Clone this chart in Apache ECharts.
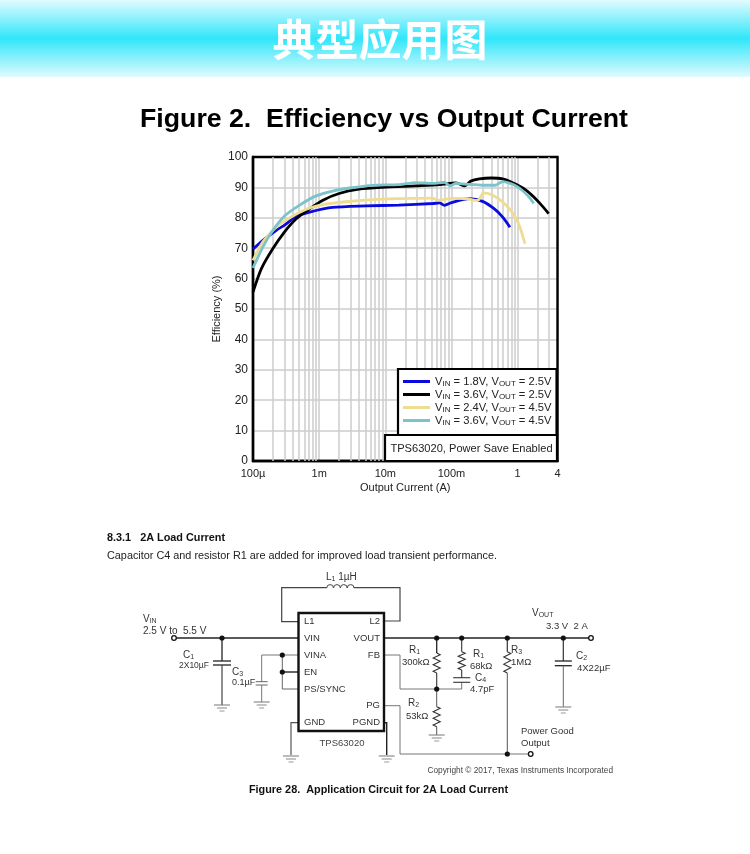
<!DOCTYPE html>
<html>
<head>
<meta charset="utf-8">
<style>html,body{margin:0;padding:0;background:#fff}#c{width:750px;height:854px}</style>
<script src="https://cdn.jsdelivr.net/npm/echarts@6/dist/echarts.min.js"></script>
</head>
<body>
<div id="c"></div>
<script>
// Chart data: output current (A) and efficiency (%)
var blueCurrent = [1e-4,1.4e-4,2.25e-4,3e-4,4.5e-4,7.2e-4,1.6e-3,5.1e-3,0.016,0.052,0.066,0.078,0.1,0.186,0.295,0.44,0.59,0.764];
var blueEff     = [69.7,72.5,75.9,77.6,80.5,81.9,83.4,83.9,84.2,84.7,84.9,84.1,85,86.3,85.4,83,80.3,76.9];
var blackCurrent = [1e-4,1.34e-4,2e-4,3e-4,4.5e-4,7.2e-4,1.14e-3,2e-3,4e-3,9e-3,0.029,0.066,0.117,0.158,0.197,0.263,0.398,0.59,0.944,1.41,2.12,2.94];
var blackEff     = [55.6,63.3,69.9,75.4,79.7,83,85.8,88,89.4,90,90.5,90.9,91.5,90.5,92.1,92.8,93.1,92.8,91,88.7,85,81.4];
var yellowCurrent = [1e-4,1.41e-4,2.25e-4,3.6e-4,6.4e-4,1.14e-3,2.3e-3,6.5e-3,0.016,0.052,0.0617,0.104,0.166,0.249,0.307,0.42,0.63,0.89,1.08,1.29];
var yellowEff     = [66,72.1,77,80,82.8,84.3,85.2,86,86.3,86.5,85.8,86.4,86.3,85.7,88.2,87.4,84.7,80.8,77,71.5];
var tealCurrent = [1e-4,1.41e-4,2e-4,3e-4,5e-4,9e-4,1.6e-3,2.9e-3,6.5e-3,0.016,0.029,0.052,0.078,0.094,0.117,0.16,0.295,0.46,0.59,0.944,1.41,1.75];
var tealEff     = [63.5,70.4,75.9,80.6,84.1,87.2,88.8,89.8,90.7,90.9,91.6,91.3,91.7,90.5,91.3,91.1,90.7,90.7,91.9,90.5,87.4,84.7];
var seriesNames = ['VIN = 1.8V, VOUT = 2.5V','VIN = 3.6V, VOUT = 2.5V','VIN = 2.4V, VOUT = 4.5V','VIN = 3.6V, VOUT = 4.5V'];
var seriesColors = ['#0a0ae0','#000000','#eedd90','#7cc4cc'];
var minorGridCurrents = [2e-4,3e-4,4e-4,5e-4,6e-4,7e-4,8e-4,9e-4,2e-3,3e-3,4e-3,5e-3,6e-3,7e-3,8e-3,9e-3,0.02,0.03,0.04,0.05,0.06,0.07,0.08,0.09,0.2,0.3,0.4,0.5,0.6,0.7,0.8,0.9,2,3];
var xTickLabels = {'0.0001':'100µ','0.001':'1m','0.01':'10m','0.1':'100m','1':'1','4':'4'};

function zip(a,b){return a.map(function(v,i){return [v,b[i]];});}

// --- static page furniture and circuit diagram ---
var SANS='"Liberation Sans",Arial,sans-serif';
var G=[];
var rich={n:{fontFamily:SANS,fontSize:10,fill:'#333',color:'#333'},s:{fontFamily:SANS,fontSize:7,color:'#333',verticalAlign:'bottom',padding:[5,0,0,0]}};
function txt(x,y,t,o){o=o||{};G.push({type:'text',z:50,x:x,y:y,style:{text:t,fontFamily:o.ff||SANS,fontSize:o.size||10,fontWeight:o.w||'normal',fill:o.c||'#333',align:o.a||'left',verticalAlign:'middle',rich:o.rich?rich:undefined}});}
function wire(p,c,w){G.push({type:'polyline',z:40,shape:{points:p},style:{stroke:c||'#555',lineWidth:w||1,fill:null}});}
function dot(x,y){G.push({type:'circle',z:42,shape:{cx:x,cy:y,r:2.6},style:{fill:'#111'}});}
function term(x,y){G.push({type:'circle',z:42,shape:{cx:x,cy:y,r:2.3},style:{fill:'#fff',stroke:'#111',lineWidth:1.3}});}
function gnd(x,y){wire([[x-8,y],[x+8,y]],'#777');wire([[x-5,y+3],[x+5,y+3]],'#888');wire([[x-2.5,y+6],[x+2.5,y+6]],'#999');}
function capH(x,y1,y2,hw,c,w){wire([[x-hw,y1],[x+hw,y1]],c,w);wire([[x-hw,y2],[x+hw,y2]],c,w);}
function res(x,y1,y2){var n=6,p=[[x,y1]],st=(y2-y1)/n;for(var i=0;i<n;i++){p.push([x+(i%2?-3.5:3.5),y1+st*(i+0.5)]);}p.push([x,y2]);wire(p,'#333',1.1);}

G.push({type:'rect',z:1,shape:{x:0,y:0,width:750,height:77},style:{fill:new echarts.graphic.LinearGradient(0,0,0,1,[{offset:0,color:'#e2fbfe'},{offset:0.5,color:'#30e6fa'},{offset:1,color:'#e0fafe'}])}});
txt(380,40,'典型应用图',{ff:'"Noto Sans CJK SC"',size:43,w:'bold',c:'#ffffff',a:'center'});
txt(384,120,'Figure 2.  Efficiency vs Output Current',{size:26.7,w:'bold',c:'#000',a:'center'});
txt(107,538,'8.3.1   2A Load Current',{size:10.85,w:'bold',c:'#111'});
txt(107,556,'Capacitor C4 and resistor R1 are added for improved load transient performance.',{size:10.85,c:'#222'});
txt(378.5,790,'Figure 28.  Application Circuit for 2A Load Current',{size:10.85,w:'bold',c:'#111',a:'center'});
txt(613,771,'Copyright © 2017, Texas Instruments Incorporated',{size:8.3,c:'#444',a:'right'});

// TPS box in the plot corner
G.push({type:'rect',z:60,shape:{x:385,y:435,width:172,height:26},style:{fill:'#fff',stroke:'#000',lineWidth:2.2}});
G.push({type:'text',z:61,x:471.5,y:449,style:{text:'TPS63020, Power Save Enabled',fontFamily:SANS,fontSize:11.1,fill:'#222',align:'center',verticalAlign:'middle'}});

// IC
G.push({type:'rect',z:41,shape:{x:298.5,y:613,width:85.5,height:118},style:{fill:'#fff',stroke:'#111',lineWidth:2.4}});
[['L1',621.7],['VIN',638],['VINA',655],['EN',672],['PS/SYNC',689],['GND',722]].forEach(function(a){txt(304,a[1],a[0],{size:9.5});});
[['L2',621.7],['VOUT',638],['FB',655],['PG',705.7],['PGND',722]].forEach(function(a){txt(380,a[1],a[0],{size:9.5,a:'right'});});
txt(342,743,'TPS63020',{size:9.5,a:'center',c:'#444'});
// inductor
wire([[298,621.7],[281.7,621.7],[281.7,587.7],[326.7,587.7]],'#444',1.2);
wire([[354,587.7],[400,587.7],[400,621],[384,621]],'#444',1.2);
[0,1,2,3].forEach(function(i){G.push({type:'arc',z:40,shape:{cx:330.1+i*6.85,cy:588,r:3.4,startAngle:Math.PI,endAngle:2*Math.PI},style:{stroke:'#444',lineWidth:1,fill:null}});});
txt(326,577,'{n|L}{s|1}{n| 1µH}',{rich:true});
// input
txt(143,619,'{n|V}{s|IN}',{rich:true});
txt(143,631,'2.5 V to  5.5 V',{size:10});
wire([[176,638],[298,638]],'#222',1.3);term(174,638);dot(222,638);
wire([[222,638],[222,661]],'#222',1.3);capH(222,661,665,9,'#222',1.3);wire([[222,665],[222,705]],'#444',1.2);gnd(222,705);
txt(183,655,'{n|C}{s|1}',{rich:true});txt(179,666,'2X10µF',{size:8.5});
txt(232,672,'{n|C}{s|3}',{rich:true});txt(232,683,'0.1µF',{size:9});
wire([[298,655],[261.7,655],[261.7,681.7]],'#777');capH(261.7,681.7,685,6,'#666',1);wire([[261.7,685],[261.7,702]],'#777');gnd(261.7,702);
wire([[282.3,655],[282.3,689],[298,689]],'#666');wire([[282.3,672],[298,672]],'#222',1.4);dot(282.3,655);dot(282.3,672);
wire([[298,722.7],[291,722.7],[291,755]],'#555',1.2);gnd(291,756);
wire([[384,722.7],[386.7,722.7],[386.7,755]],'#222',1.4);gnd(386.7,756);
// output
wire([[384,638],[589,638]],'#222',1.3);term(591,638);
[436.7,461.7,507.3,563.3].forEach(function(x){dot(x,638);});
wire([[436.7,638],[436.7,653]],'#222',1.3);res(436.7,653,673);wire([[436.7,673],[436.7,689]],'#333',1.1);dot(436.7,689);
wire([[384,655],[400,655],[400,689],[461.7,689],[461.7,682.3]],'#777');
wire([[461.7,638],[461.7,651.7]],'#333',1.1);res(461.7,651.7,670);wire([[461.7,670],[461.7,677.7]],'#333',1.1);capH(461.7,677.7,682.3,8.5,'#333',1.1);
wire([[436.7,689],[436.7,706.7]],'#555');res(436.7,706.7,726.7);wire([[436.7,726.7],[436.7,735]],'#555');gnd(436.7,735);
wire([[507.3,638],[507.3,651.7]],'#333',1.2);res(507.3,651.7,673);wire([[507.3,673],[507.3,754]],'#555');
wire([[384,705.7],[400,705.7],[400,754],[528,754]],'#777');dot(507.3,754);term(530.7,754);
wire([[563.3,638],[563.3,661]],'#333',1.2);capH(563.3,661,665.7,8.5,'#222',1.3);wire([[563.3,665.7],[563.3,706.7]],'#666');gnd(563.3,707);
txt(409,650,'{n|R}{s|1}',{rich:true});txt(402,662,'300kΩ',{size:9.5});
txt(473,654,'{n|R}{s|1}',{rich:true});txt(470,666,'68kΩ',{size:9.5});
txt(475,678,'{n|C}{s|4}',{rich:true});txt(470,689,'4.7pF',{size:9.5});
txt(511,650,'{n|R}{s|3}',{rich:true});txt(511,662,'1MΩ',{size:9.5});
txt(408,703,'{n|R}{s|2}',{rich:true});txt(406,716,'53kΩ',{size:9.5});
txt(532,613,'{n|V}{s|OUT}',{rich:true});txt(546,626,'3.3 V  2 A',{size:9.5});
txt(576,656,'{n|C}{s|2}',{rich:true});txt(577,668,'4X22µF',{size:9.5});
txt(521,731,'Power Good',{size:9.5});txt(521,743,'Output',{size:9.5});

var datasets=[zip(blueCurrent,blueEff),zip(blackCurrent,blackEff),zip(yellowCurrent,yellowEff),zip(tealCurrent,tealEff)];
var series=datasets.map(function(d,i){return {name:seriesNames[i],type:'line',data:d,showSymbol:false,symbol:'none',smooth:0.25,z:5,silent:true,lineStyle:{color:seriesColors[i],width:2.8},itemStyle:{color:seriesColors[i]}};});
series.push({name:'grid',type:'line',data:[],silent:true,z:1,markLine:{silent:true,symbol:'none',animation:false,precision:8,label:{show:false},lineStyle:{color:'#cccccc',width:1.5,type:'solid'},data:minorGridCurrents.map(function(v){return {xAxis:v};})}});

var legendFmt={};seriesNames.forEach(function(n){var m=n.match(/VIN = (.*), VOUT = (.*)/);legendFmt[n]='{n|V}{s|IN}{n| = '+m[1]+', V}{s|OUT}{n| = '+m[2]+'}';});

var chart=echarts.init(document.getElementById('c'),null,{renderer:'canvas'});
chart.setOption({
  animation:false,backgroundColor:'#fff',
  grid:{left:253,top:157,width:304.5,height:304,show:true,borderColor:'#000',borderWidth:2.4,backgroundColor:'transparent',z:3},
  xAxis:{type:'log',logBase:10,min:1e-4,max:4,
    name:'Output Current (A)',nameLocation:'middle',nameGap:21,nameTextStyle:{fontFamily:SANS,fontSize:11,color:'#222'},
    axisLine:{show:true,lineStyle:{color:'#000',width:2.4}},axisTick:{show:false},
    axisLabel:{fontFamily:SANS,fontSize:11,color:'#222',margin:7,showMinLabel:true,showMaxLabel:true,hideOverlap:false,formatter:function(v){var k=String(+v.toPrecision(3));return xTickLabels[k]||'';}},
    splitLine:{show:true,lineStyle:{color:'#cccccc',width:1.5}},minorTick:{show:false},minorSplitLine:{show:false}},
  yAxis:{type:'value',min:0,max:100,interval:10,
    name:'Efficiency (%)',nameLocation:'middle',nameGap:31,nameTextStyle:{fontFamily:SANS,fontSize:11,color:'#222'},
    axisLine:{show:true,lineStyle:{color:'#000',width:2.4}},axisTick:{show:false},
    axisLabel:{fontFamily:SANS,fontSize:12,color:'#222',margin:5},
    splitLine:{show:true,lineStyle:{color:'#cccccc',width:1.5}}},
  legend:{data:seriesNames,orient:'vertical',left:398,top:369,itemWidth:27,itemHeight:3,itemGap:1,padding:[7,5,8,5],
    backgroundColor:'#fff',borderColor:'#000',borderWidth:2.2,z:20,icon:'rect',selectedMode:false,
    formatter:function(n){return legendFmt[n];},
    textStyle:{fontFamily:SANS,rich:{n:{fontFamily:SANS,fontSize:11.2,color:'#222',lineHeight:13},s:{fontFamily:SANS,fontSize:8,color:'#222',verticalAlign:'bottom',lineHeight:13,padding:[3,0,0,0]}}}},
  series:series,
  graphic:{elements:G}
});
</script>
</body>
</html>
